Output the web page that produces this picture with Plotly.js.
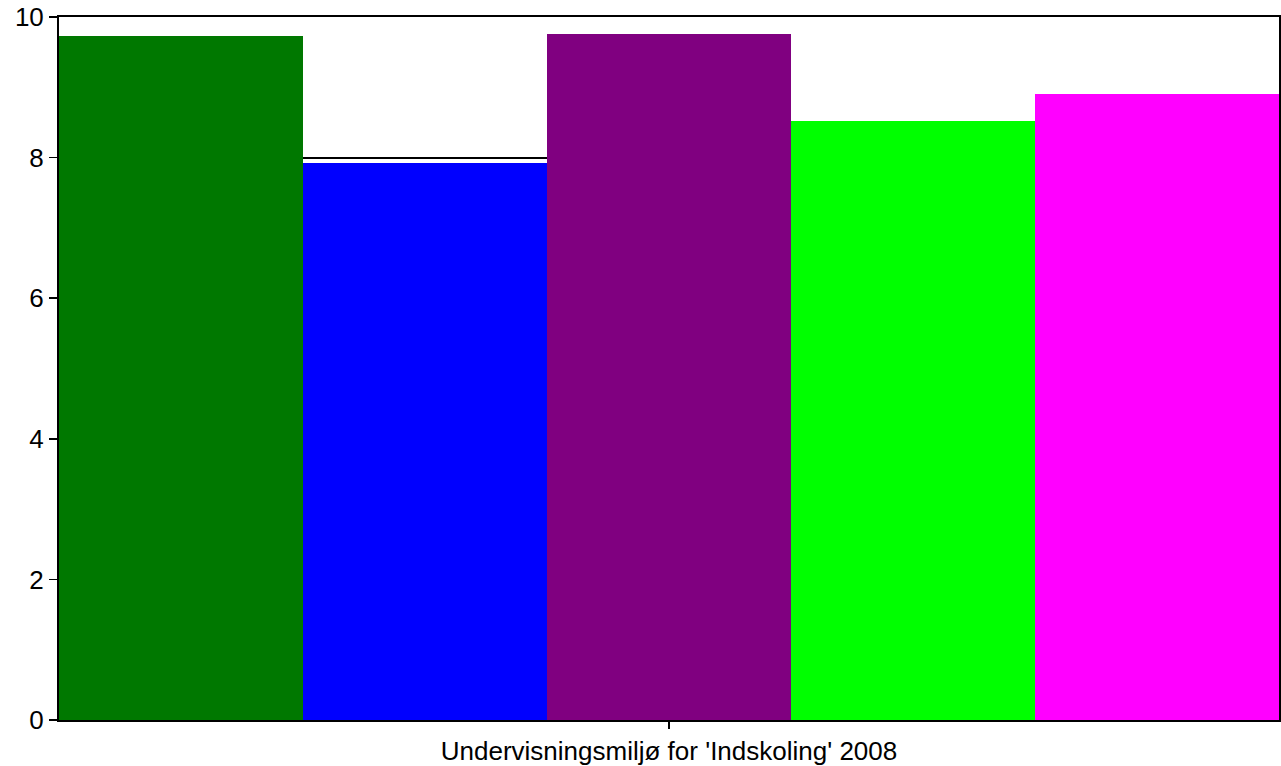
<!DOCTYPE html>
<html>
<head>
<meta charset="utf-8">
<script src="https://cdn.plot.ly/plotly-3.0.1.min.js"></script>
<style>html,body{margin:0;padding:0;background:#fff;}#chart{width:1281px;height:766px;}</style>
</head>
<body>
<div id="chart"></div>
<script>
var category = ["Undervisningsmiljø for 'Indskoling' 2008"];
var seriesNames = ["Serie 1", "Serie 2", "Serie 3", "Serie 4", "Serie 5"];
var seriesValues = [9.73, 7.93, 9.76, 8.52, 8.90];
var seriesColors = ["#007800", "#0000ff", "#800080", "#00ff00", "#ff00ff"];
var yTickVals = [0, 2, 4, 6, 8, 10];
var yTickText = ["0", "2", "4", "6", "8", "10"];

var traces = seriesNames.map(function (n, i) {
  return {
    type: 'bar',
    name: n,
    x: category,
    y: [seriesValues[i]],
    marker: {color: seriesColors[i], line: {width: 0}},
    hoverinfo: 'y'
  };
});

var layout = {
  width: 1281, height: 766,
  margin: {l: 59, r: 2, t: 17, b: 46, pad: 0},
  paper_bgcolor: '#fff', plot_bgcolor: '#fff',
  barmode: 'group', bargap: 0, bargroupgap: 0,
  showlegend: false,
  font: {family: 'Arial, Liberation Sans, sans-serif', size: 26, color: '#000'},
  xaxis: {
    showline: true, linecolor: '#000', linewidth: 2, mirror: true,
    ticks: 'outside', ticklen: 7, tickcolor: '#000', tickwidth: 1.5,
    showgrid: false, zeroline: false,
    tickfont: {size: 26}
  },
  yaxis: {
    range: [0, 10], autorange: false,
    tickvals: yTickVals, ticktext: yTickText,
    showline: true, linecolor: '#000', linewidth: 2, mirror: true,
    ticks: 'outside', ticklen: 8, tickcolor: '#000', tickwidth: 1.5,
    showgrid: true, gridcolor: '#000', gridwidth: 2,
    zeroline: false,
    tickfont: {size: 26}
  }
};
Plotly.newPlot('chart', traces, layout, {displayModeBar: false, staticPlot: true});
</script>
</body>
</html>
